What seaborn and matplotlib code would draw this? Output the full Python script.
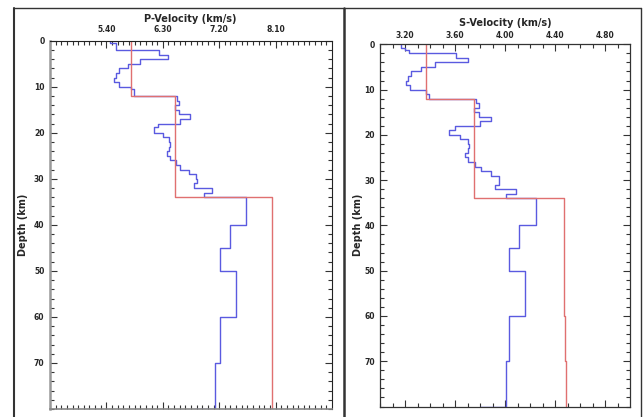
import numpy as np
import pandas as pd
import matplotlib
matplotlib.use("Agg")
import matplotlib.pyplot as plt
from matplotlib.lines import Line2D
from matplotlib.ticker import FixedLocator, FormatStrFormatter
import seaborn as sns

# ---------------- data ----------------
max_depth = 80

p_blue_depth = [0, 0.4, 2, 3, 4, 5, 6, 7, 8, 9, 10, 10.5, 12, 13, 14, 15, 16, 17, 18, 18.8,
                20, 21, 22, 23, 24, 25, 26, 27, 28, 29, 30, 31, 32, 33, 34, 40, 45, 50, 60, 70]
p_blue_vel = [5.46, 5.56, 6.24, 6.38, 5.93, 5.75, 5.60, 5.56, 5.52, 5.60, 5.80, 5.84,
              6.53, 6.56, 6.50, 6.56, 6.73, 6.57, 6.23, 6.16, 6.30,
              6.40, 6.42, 6.40, 6.37, 6.42, 6.51, 6.57, 6.72, 6.83, 6.84, 6.79, 7.08, 6.95,
              7.63, 7.38, 7.22, 7.47, 7.22, 7.14]
p_blue_end = 6.80

p_red_depth = [0, 12, 34]
p_red_vel = [5.80, 6.49, 8.05]

s_blue_depth = [0, 0.8, 1.3, 2, 3, 4, 5, 6, 7, 8, 9, 10, 11, 12, 13, 14, 15, 16, 17, 18,
                19, 20, 21, 22, 23, 24, 25, 26, 27, 28, 29, 30, 31, 32, 33, 34, 40, 45, 50, 60, 70]
s_blue_vel = [3.17, 3.20, 3.23, 3.61, 3.70, 3.44, 3.33, 3.25, 3.22, 3.21, 3.24, 3.37, 3.39, 3.77,
              3.79, 3.75, 3.79, 3.89, 3.80, 3.60, 3.55, 3.64, 3.70, 3.71, 3.70, 3.68, 3.70, 3.76,
              3.81, 3.89, 3.95, 3.95, 3.92, 4.09, 4.01, 4.25, 4.11, 4.03, 4.16, 4.03, 4.01]
s_blue_end = 3.80

s_red_depth = [0, 12, 34, 60, 70]
s_red_vel = [3.365, 3.755, 4.475, 4.48, 4.49]

p_ticks = [5.40, 6.30, 7.20, 8.10]
s_ticks = [3.20, 3.60, 4.00, 4.40, 4.80]
depth_ticks = [0, 10, 20, 30, 40, 50, 60, 70]


def step_table(depths, vels, end=None):
    xs, ys = [], []
    bounds = list(depths[1:]) + [max_depth]
    for v, top, bot in zip(vels, depths, bounds):
        xs += [v, v]
        ys += [top, bot]
    if end is not None:
        xs.append(end)
        ys.append(max_depth)
    return pd.DataFrame({"vel": xs, "depth": ys, "order": range(len(xs))})


sns.set_theme(style="white")
plt.rcParams["font.family"] = ["DejaVu Sans"]

W, H = 644, 417
fig = plt.figure(figsize=(W / 100, H / 100), dpi=100)


def fx(x):
    return x / W


def fy(y):
    return 1 - y / H


ax1 = fig.add_axes([fx(50), fy(409), fx(332) - fx(50), fy(40.7) - fy(409)])
ax2 = fig.add_axes([fx(380), fy(406.5), fx(630) - fx(380), fy(44.3) - fy(406.5)])

blue = "#5a5ae0"
red = "#e07070"

for ax, bd, bv, be, rd, rv in [
    (ax1, p_blue_depth, p_blue_vel, p_blue_end, p_red_depth, p_red_vel),
    (ax2, s_blue_depth, s_blue_vel, s_blue_end, s_red_depth, s_red_vel),
]:
    tb = step_table(bd, bv, be)
    tr = step_table(rd, rv)
    sns.lineplot(data=tb, x="vel", y="depth", sort=False, estimator=None,
                 color=blue, lw=1.0, ax=ax)
    sns.lineplot(data=tr, x="vel", y="depth", sort=False, estimator=None,
                 color=red, lw=1.0, ax=ax)

# axis setup
ax1.set_xlim(4.5, 9.0)
ax2.set_xlim(3.0, 5.0)
for ax in (ax1, ax2):
    ax.set_ylim(max_depth, 0)
    ax.set_xlabel("")
    ax.set_ylabel("")
    ax.xaxis.set_ticks_position("both")
    ax.yaxis.set_ticks_position("both")
    ax.xaxis.set_label_position("top")
    ax.tick_params(axis="x", which="both", labeltop=True, labelbottom=False)
    ax.yaxis.set_major_locator(FixedLocator(depth_ticks))
    ax.yaxis.set_minor_locator(FixedLocator(np.arange(0, max_depth + 0.1, 2)))
    ax.tick_params(which="both", direction="in", color="#333333", width=0.8)
    ax.tick_params(which="major", length=5)
    ax.tick_params(which="minor", length=3)
    for lab in ax.get_xticklabels() + ax.get_yticklabels():
        lab.set_fontweight("bold")

ax1.xaxis.set_major_locator(FixedLocator(p_ticks))
ax1.xaxis.set_minor_locator(FixedLocator(np.arange(4.5, 9.0, 0.09)))
ax1.xaxis.set_major_formatter(FormatStrFormatter("%.2f"))
ax2.xaxis.set_major_locator(FixedLocator(s_ticks))
ax2.xaxis.set_minor_locator(FixedLocator(np.arange(3.0, 5.0, 0.1)))
ax2.xaxis.set_major_formatter(FormatStrFormatter("%.2f"))

ax1.tick_params(axis="x", labelsize=5.5, pad=4.5)
ax1.tick_params(axis="y", labelsize=5.5, pad=4)
ax2.tick_params(axis="x", labelsize=5.5, pad=3)
ax2.tick_params(axis="y", labelsize=5.5, pad=3.5)
for ax in (ax1, ax2):
    for lab in ax.get_xticklabels() + ax.get_yticklabels():
        lab.set_fontweight("bold")

for s in ax1.spines.values():
    s.set_color("#222222")
    s.set_linewidth(0.8)
ax1.spines["left"].set_color("#999999")
ax1.spines["left"].set_linewidth(1.8)
ax1.spines["bottom"].set_color("#888888")
ax1.spines["bottom"].set_linewidth(1.2)
for s in ax2.spines.values():
    s.set_color("#333333")
    s.set_linewidth(0.9)

# titles and axis labels
fig.text(fx(190), fy(19), "P-Velocity (km/s)", ha="center", va="center",
         fontsize=7, fontweight="bold")
fig.text(fx(505), fy(23), "S-Velocity (km/s)", ha="center", va="center",
         fontsize=7, fontweight="bold")
fig.text(fx(23), fy(225), "Depth (km)", ha="center", va="center",
         rotation=90, fontsize=7, fontweight="bold")
fig.text(fx(358), fy(225), "Depth (km)", ha="center", va="center",
         rotation=90, fontsize=7, fontweight="bold")

# outer panel frames
frame_kw = dict(transform=fig.transFigure, color="#333333")
fig.add_artist(Line2D([fx(14), fx(641)], [fy(8.3), fy(8.3)], lw=1.0, **frame_kw))
fig.add_artist(Line2D([fx(14), fx(14)], [fy(8.3), fy(417)], lw=1.5, **frame_kw))
fig.add_artist(Line2D([fx(343.5), fx(343.5)], [fy(8.3), fy(417)], lw=1.8, **frame_kw))
fig.add_artist(Line2D([fx(641), fx(641)], [fy(8.3), fy(417)], lw=1.0, **frame_kw))

fig.savefig("out.png", dpi=100)
